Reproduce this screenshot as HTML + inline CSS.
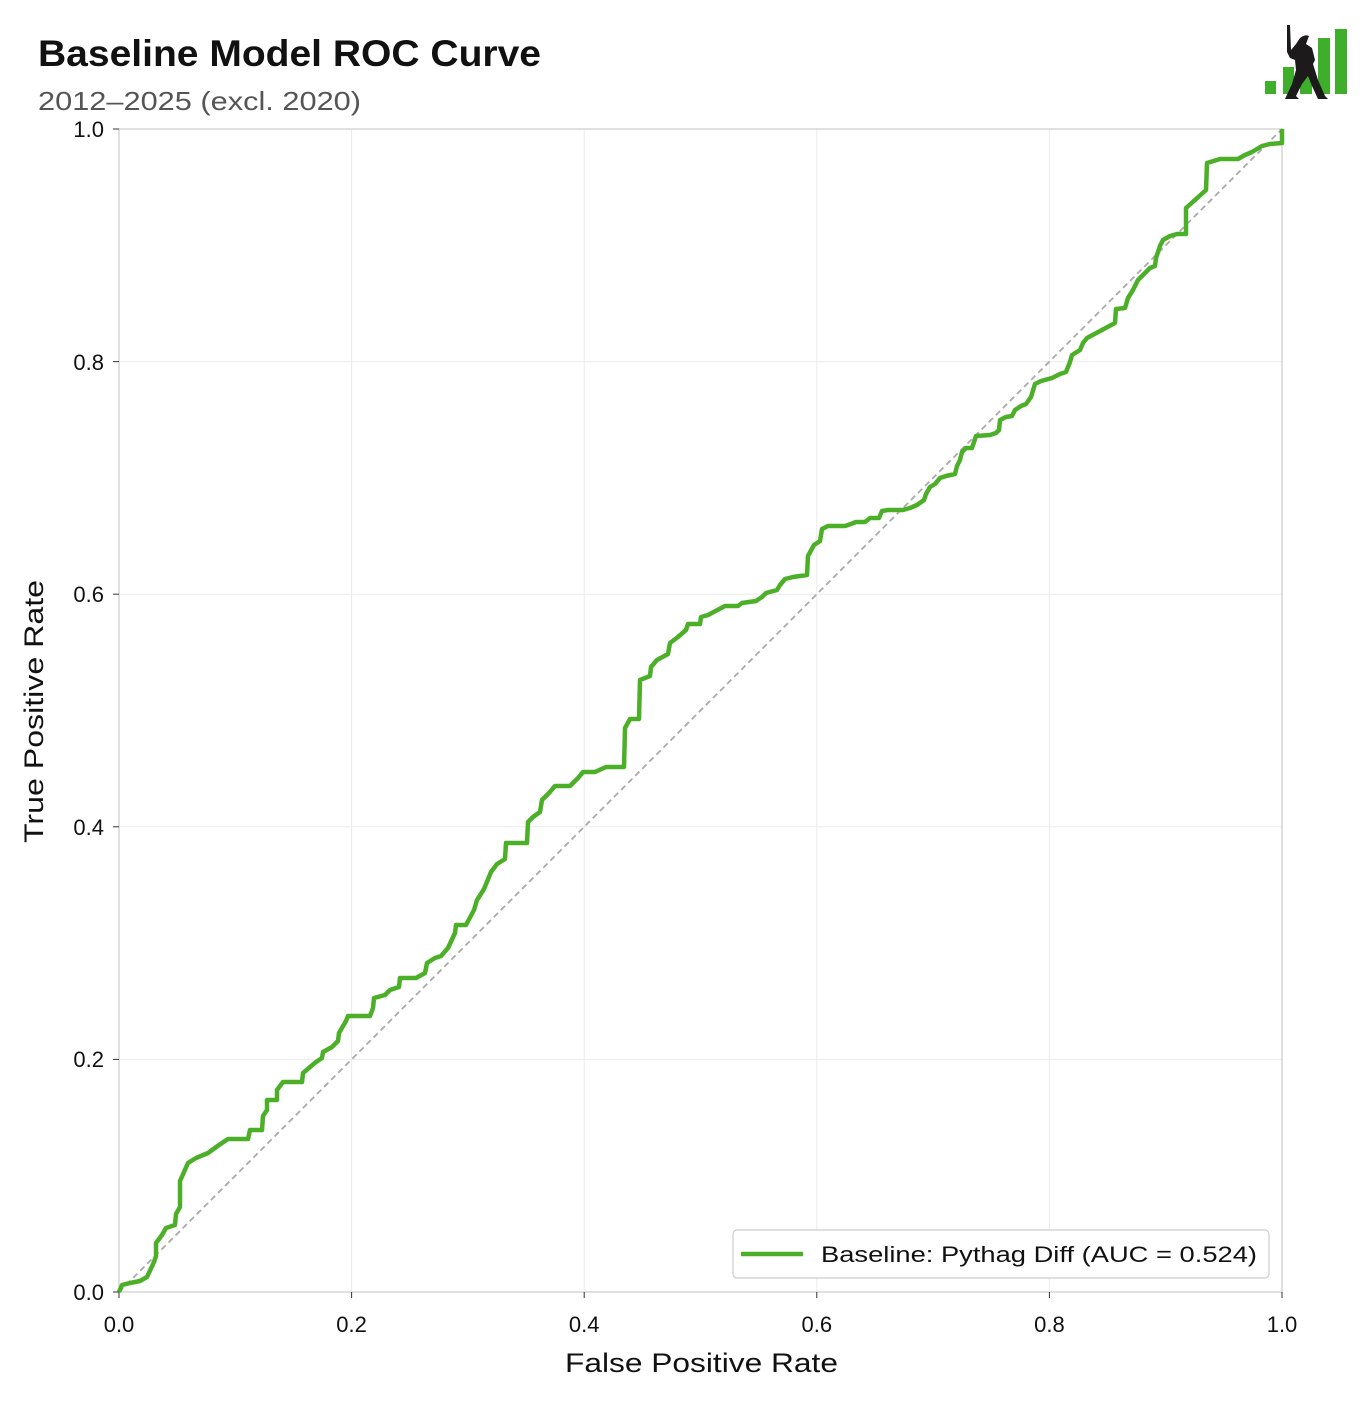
<!DOCTYPE html>
<html><head><meta charset="utf-8"><style>
html,body{margin:0;padding:0;background:#fff;}
body{width:1367px;height:1398px;overflow:hidden;font-family:"Liberation Sans",sans-serif;}
</style></head><body>
<svg width="1367" height="1398" xmlns="http://www.w3.org/2000/svg" font-family="Liberation Sans, sans-serif">
<text x="38" y="66" font-size="37" font-weight="bold" fill="#111" textLength="503" lengthAdjust="spacingAndGlyphs">Baseline Model ROC Curve</text>
<text x="38" y="110" font-size="26" fill="#555" textLength="323" lengthAdjust="spacingAndGlyphs">2012–2025 (excl. 2020)</text>
<!-- logo -->
<g fill="#3fae2a">
<rect x="1265" y="81" width="11" height="13"/>
<rect x="1283" y="67" width="11" height="27"/>
<rect x="1300" y="48" width="12" height="46"/>
<rect x="1318" y="38" width="12" height="56"/>
<rect x="1335" y="29" width="12" height="65"/>
</g>
<g fill="#1c1a1a">
<path d="M1287 25 L1290 25 L1291 50 L1296 44 L1300 38 Q1305 34 1309 36 L1306 44 L1312 48 L1315 60 L1313 64 L1318 80 L1325 96 L1328 99 L1318 99 L1312 86 L1308 76 L1302 84 L1296 96 L1299 99 L1285 99 L1292 84 L1296 70 L1295 60 L1290 58 L1287 52 Z"/>
</g>
<!-- grid -->
<g stroke="#ebebeb" stroke-width="1">
<line x1="351.6" y1="129" x2="351.6" y2="1292"/><line x1="584.2" y1="129" x2="584.2" y2="1292"/>
<line x1="816.8" y1="129" x2="816.8" y2="1292"/><line x1="1049.4" y1="129" x2="1049.4" y2="1292"/>
<line x1="119" y1="1059.4" x2="1282" y2="1059.4"/><line x1="119" y1="826.8" x2="1282" y2="826.8"/>
<line x1="119" y1="594.2" x2="1282" y2="594.2"/><line x1="119" y1="361.6" x2="1282" y2="361.6"/>
</g>
<rect x="119" y="129" width="1163" height="1163" fill="none" stroke="#cccccc" stroke-width="1.2"/>
<line x1="119" y1="1292" x2="1282" y2="129" stroke="#aaaaaa" stroke-width="1.8" stroke-dasharray="6,4"/>
<g stroke="#333" stroke-width="1">
<line x1="119" y1="1292" x2="119" y2="1298"/><line x1="351.6" y1="1292" x2="351.6" y2="1298"/><line x1="584.2" y1="1292" x2="584.2" y2="1298"/><line x1="816.8" y1="1292" x2="816.8" y2="1298"/><line x1="1049.4" y1="1292" x2="1049.4" y2="1298"/><line x1="1282" y1="1292" x2="1282" y2="1298"/>
<line x1="113" y1="1292" x2="119" y2="1292"/><line x1="113" y1="1059.4" x2="119" y2="1059.4"/><line x1="113" y1="826.8" x2="119" y2="826.8"/><line x1="113" y1="594.2" x2="119" y2="594.2"/><line x1="113" y1="361.6" x2="119" y2="361.6"/><line x1="113" y1="129" x2="119" y2="129"/>
</g>
<g font-size="22" fill="#111" text-anchor="middle">
<text x="119" y="1332">0.0</text><text x="351.6" y="1332">0.2</text><text x="584.2" y="1332">0.4</text><text x="816.8" y="1332">0.6</text><text x="1049.4" y="1332">0.8</text><text x="1282" y="1332">1.0</text>
</g>
<g font-size="22" fill="#111" text-anchor="end">
<text x="104" y="1300">0.0</text><text x="104" y="1067">0.2</text><text x="104" y="835">0.4</text><text x="104" y="602">0.6</text><text x="104" y="370">0.8</text><text x="104" y="137">1.0</text>
</g>
<text x="565" y="1372" font-size="27" fill="#111" textLength="273" lengthAdjust="spacingAndGlyphs">False Positive Rate</text>
<text transform="translate(43,843) rotate(-90)" font-size="27" fill="#111" textLength="263" lengthAdjust="spacingAndGlyphs">True Positive Rate</text>
<polyline fill="none" stroke="#4caf28" stroke-width="4.5" stroke-linejoin="round" points="119,1292 122,1285 130,1283 140,1281 147,1277 154,1262 156,1256 156,1243 162,1235 166,1228 175,1225 176,1214 180,1207 180,1181 188,1163 196,1158 208,1153 219,1145 228,1139 248,1139 250,1130 262,1130 263,1116 267,1110 267,1100 277,1100 277,1090 283,1082 302,1082 303,1073 316,1062 322,1058 323,1052 332,1047 338,1041 339,1033 346,1021 348,1016 370,1016 373,1008 374,998 385,995 390,990 399,987 400,978 416,978 425,973 427,963 435,958 441,956 448,948 455,933 456,925 466,925 474,910 477,900 484,889 491,872 497,864 505,859 506,843 527,843 528,822 533,817 540,812 542,800 549,793 555,786 570,786 578,778 583,772 595,772 606,767 624,767 625,728 630,719 639,719 640,680 650,676 651,667 657,660 668,654 670,643 678,637 686,630 688,624 700,624 701,617 708,615 725,606 738,606 742,603 756,601 762,597 766,593 777,590 780,585 785,579 793,577 807,575 808,556 814,545 820,541 822,529 828,526 845,526 851,524 856,522 865,522 870,518 879,518 882,511 888,510 903,510 910,508 917,505 924,500 926,494 930,487 935,484 940,478 946,476 955,474 957,466 960,460 962,452 966,448 972,448 976,436 990,435 996,433 999,430 1000,420 1006,417 1012,416 1015,410 1021,406 1026,404 1031,397 1035,384 1041,381 1052,378 1060,374 1066,372 1070,362 1072,355 1080,350 1083,343 1087,338 1115,323 1116,309 1125,308 1128,298 1133,290 1138,280 1142,276 1150,268 1155,266 1156,258 1160,246 1163,240 1170,236 1177,234 1186,234 1186,208 1195,200 1206,190 1207,163 1220,159 1238,159 1245,155 1252,152 1262,146 1270,144 1282,143 1282,129"/>
<rect x="733" y="1230" width="536" height="48" rx="4" fill="#fff" stroke="#cccccc" stroke-width="1.2"/>
<line x1="741" y1="1254" x2="803" y2="1254" stroke="#4caf28" stroke-width="4.5"/>
<text x="821" y="1262" font-size="22" fill="#111" textLength="436" lengthAdjust="spacingAndGlyphs">Baseline: Pythag Diff (AUC = 0.524)</text>
</svg>
</body></html>
